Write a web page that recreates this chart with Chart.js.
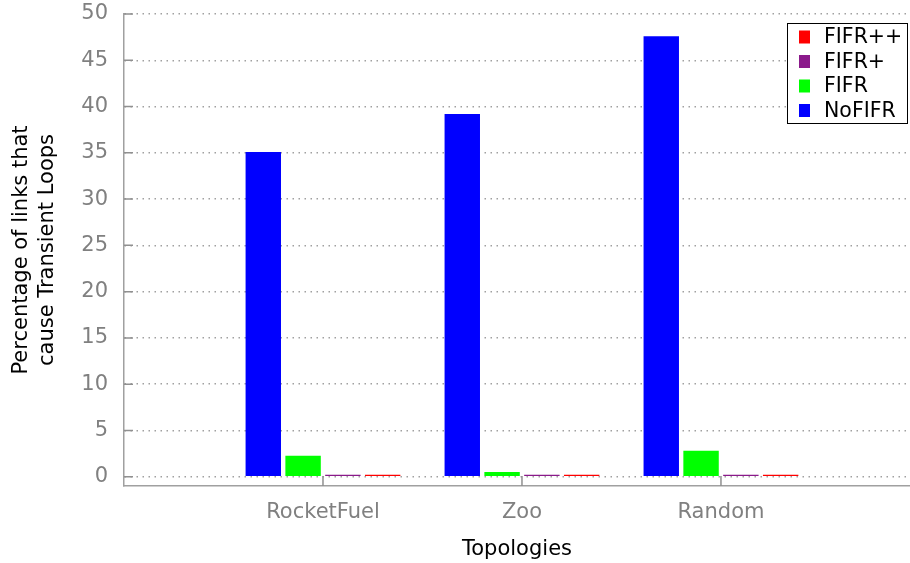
<!DOCTYPE html>
<html>
<head>
<meta charset="utf-8">
<script src="https://cdn.jsdelivr.net/npm/chart.js@4/dist/chart.umd.min.js"></script>
<style>
  html, body { margin: 0; padding: 0; background: #fff; overflow: hidden; }
  canvas { display: block; }
</style>
</head>
<body>
<canvas id="c" width="910" height="563"></canvas>
<script>
// Percentage of links causing transient loops, per topology and scheme
const topologies = ['RocketFuel', 'Zoo', 'Random'];
const noFifr = [35.1, 39.2, 47.6];
const fifr = [2.27, 0.5, 2.8];
const fifrPlus = [0.15, 0.2, 0.2];
const fifrPlusPlus = [0.08, 0.08, 0.08];
const yTicks = [0, 5, 10, 15, 20, 25, 30, 35, 40, 45, 50];

const seriesNames = ['NoFIFR', 'FIFR', 'FIFR+', 'FIFR++'];
const seriesValues = [noFifr, fifr, fifrPlus, fifrPlusPlus];
const seriesColors = ['#0000ff', '#00ff00', '#8b1a8b', '#ff0000'];

Chart.defaults.font.family = "'DejaVu Sans', sans-serif";
Chart.defaults.font.size = 21;

const AXIS_GREY = '#a0a0a0';
const TEXT_GREY = '#808080';

// Short solid tick marks drawn on the inside of both axes
const innerTicks = {
  id: 'innerTicks',
  afterDatasetsDraw(chart) {
    const { ctx, scales: { x, y } } = chart;
    ctx.save();
    ctx.strokeStyle = '#909090';
    ctx.lineWidth = 1.5;
    ctx.beginPath();
    y.ticks.forEach(t => {
      const py = y.getPixelForValue(t.value);
      ctx.moveTo(x.left, py);
      ctx.lineTo(x.left + 9, py);
    });
    x.ticks.forEach(t => {
      const px = x.getPixelForValue(t.value);
      ctx.moveTo(px, y.bottom);
      ctx.lineTo(px, y.bottom - 10);
    });
    ctx.stroke();
    ctx.restore();
  }
};

// Boxed key in the top-right corner, listed in reverse series order
const boxedLegend = {
  id: 'boxedLegend',
  afterDraw(chart) {
    const { ctx } = chart;
    const left = 787, top = 23, w = 120, h = 100;
    ctx.save();
    ctx.fillStyle = '#fff';
    ctx.fillRect(left, top, w, h);
    ctx.strokeStyle = '#000';
    ctx.lineWidth = 1;
    ctx.strokeRect(left + 0.5, top + 0.5, w, h);
    ctx.font = "20.5px 'DejaVu Sans', sans-serif";
    ctx.textBaseline = 'middle';
    ctx.textAlign = 'left';
    const order = chart.data.datasets.map((d, i) => i).reverse();
    order.forEach((di, row) => {
      const ds = chart.data.datasets[di];
      const cy = top + 14 + row * 24.5;
      ctx.fillStyle = ds.backgroundColor;
      ctx.fillRect(left + 12, cy - 6.5, 11, 13);
      ctx.fillStyle = '#000';
      ctx.fillText(ds.label, left + 37, cy + 1);
    });
    ctx.restore();
  }
};

new Chart(document.getElementById('c'), {
  type: 'bar',
  data: {
    datasets: seriesNames.map((name, i) => ({
      label: name,
      data: topologies.map((t, k) => ({ x: k + 1, y: seriesValues[i][k] })),
      backgroundColor: seriesColors[i],
      borderWidth: 0,
      minBarLength: 2,
      categoryPercentage: 0.8,
      barPercentage: 0.89
    }))
  },
  options: {
    responsive: false,
    animation: false,
    devicePixelRatio: 1,
    layout: { padding: { top: 14, left: 0, right: 0, bottom: 0 } },
    plugins: {
      legend: { display: false },
      tooltip: { enabled: false }
    },
    scales: {
      x: {
        type: 'linear',
        position: 'bottom',
        offset: false,
        min: 0,
        max: 3.95,
        afterBuildTicks(scale) {
          scale.ticks = topologies.map((t, k) => ({ value: k + 1 }));
        },
        afterFit(scale) { scale.height = 77; },
        ticks: {
          color: TEXT_GREY,
          padding: 14,
          autoSkip: false,
          maxRotation: 0,
          callback: v => topologies[v - 1]
        },
        grid: { display: false, drawTicks: false },
        border: { display: true, color: AXIS_GREY, width: 1.5 },
        title: {
          display: true,
          text: 'Topologies',
          color: '#000',
          font: { size: 21 },
          padding: { top: 0, bottom: 0.5 }
        }
      },
      y: {
        min: -1,
        max: 50,
        afterBuildTicks(scale) {
          scale.ticks = yTicks.map(v => ({ value: v }));
        },
        afterFit(scale) {
          scale.width = 124;
          scale.paddingTop = 0;
          scale.paddingBottom = 0;
        },
        ticks: { color: TEXT_GREY, padding: 16 },
        grid: { color: AXIS_GREY, lineWidth: 1.5, drawTicks: false },
        border: { display: true, color: AXIS_GREY, width: 1.5, dash: [1.5, 4.5] },
        title: {
          display: true,
          text: ['Percentage of links that', 'cause Transient Loops'],
          color: '#000',
          font: { size: 21, lineHeight: 1.24 },
          padding: { top: 8.5, bottom: 0 }
        }
      }
    }
  },
  plugins: [innerTicks, boxedLegend]
});
</script>
</body>
</html>
